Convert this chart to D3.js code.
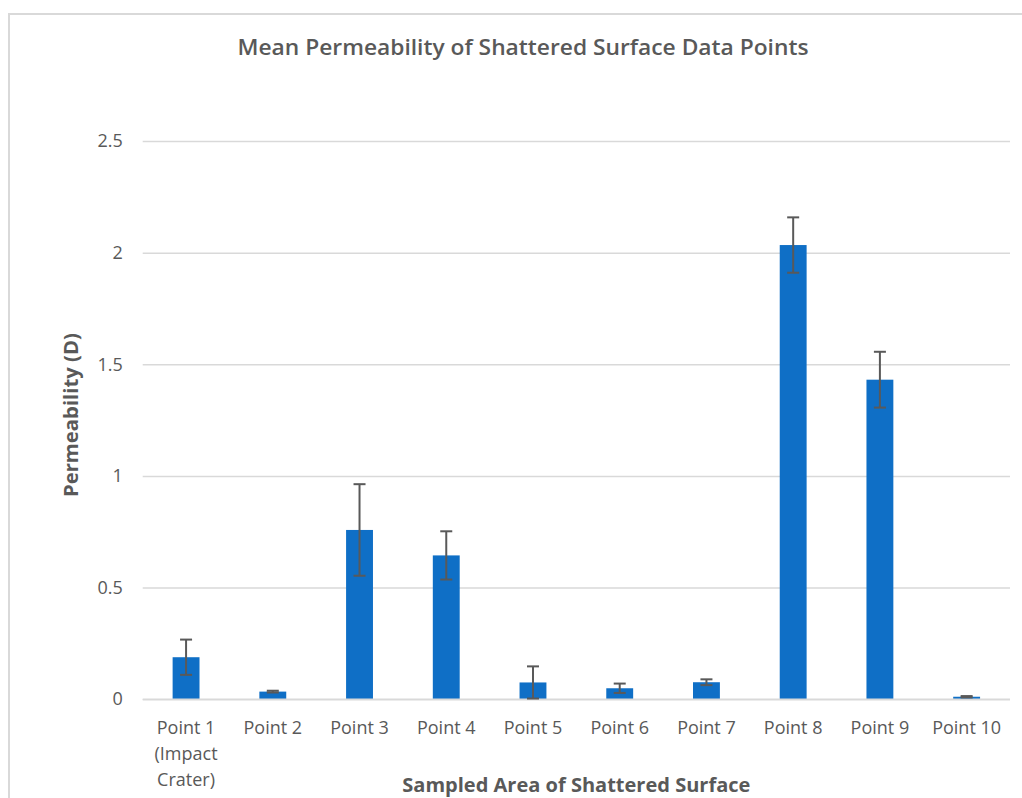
<!DOCTYPE html>
<html>
<head>
<meta charset="utf-8">
<script src="https://cdn.jsdelivr.net/npm/d3@7"></script>
<style>
  html, body { margin: 0; padding: 0; background: #fff; }
  svg { display: block; }
  text { font-family: "Open Sans", "Noto Sans", sans-serif; }
</style>
</head>
<body>
<svg id="chart" width="1022" height="798"></svg>
<script>
const categories = ["Point 1\n(Impact\nCrater)", "Point 2", "Point 3", "Point 4", "Point 5",
                    "Point 6", "Point 7", "Point 8", "Point 9", "Point 10"];
const values = [0.188, 0.034, 0.758, 0.644, 0.075, 0.049, 0.076, 2.034, 1.431, 0.011];
const errors = [0.079, 0.004, 0.205, 0.108, 0.072, 0.021, 0.013, 0.124, 0.125, 0.003];
const yTicks = [0, 0.5, 1, 1.5, 2, 2.5];
const titleText = "Mean Permeability of Shattered Surface Data Points";
const xTitle = "Sampled Area of Shattered Surface";
const yTitle = "Permeability (D)";

(function () {
const svg = d3.select("#chart");
const pLeft = 142.7, pRight = 1010, pTop = 141, pBottom = 699.2;
const grey = "#595959", gridCol = "#d9d9d9", barCol = "#0f6fc6";

// outer chart border
svg.append("rect").attr("x", 9).attr("y", 14).attr("width", 1100).attr("height", 900)
  .attr("fill", "#fff").attr("stroke", gridCol).attr("stroke-width", 2);

const x = d3.scaleBand().domain(categories).range([pLeft, pRight])
  .paddingInner(0.69).paddingOuter(0.345);
const y = d3.scaleLinear().domain([0, 2.5]).range([pBottom, pTop]);

// y axis with gridlines
const yAxis = svg.append("g").attr("transform", `translate(${pLeft},0)`)
  .call(d3.axisLeft(y).tickValues(yTicks).tickFormat(d3.format("")).tickSize(-(pRight - pLeft)).tickPadding(20));
yAxis.select(".domain").remove();
yAxis.selectAll(".tick line").attr("stroke", gridCol).attr("stroke-width", 1.5);
yAxis.selectAll(".tick text").attr("fill", grey).attr("font-size", 18)
  .attr("font-family", "'Open Sans', sans-serif");

// bars
svg.append("g").selectAll("rect").data(categories).join("rect")
  .attr("x", d => x(d)).attr("width", x.bandwidth())
  .attr("y", (d, i) => y(values[i]))
  .attr("height", (d, i) => y(0) - y(values[i]))
  .attr("fill", barCol);

// baseline
svg.append("line").attr("x1", pLeft).attr("x2", pRight).attr("y1", y(0)).attr("y2", y(0))
  .attr("stroke", gridCol).attr("stroke-width", 1.5);

// error bars
const eb = svg.append("g").attr("stroke", grey).attr("stroke-width", 2);
categories.forEach((c, i) => {
  const cx = x(c) + x.bandwidth() / 2;
  const y1 = y(values[i] + errors[i]), y2 = y(Math.max(0, values[i] - errors[i]));
  eb.append("line").attr("x1", cx).attr("x2", cx).attr("y1", y1).attr("y2", y2);
  eb.append("line").attr("x1", cx - 6).attr("x2", cx + 6).attr("y1", y1).attr("y2", y1);
  eb.append("line").attr("x1", cx - 6).attr("x2", cx + 6).attr("y1", y2).attr("y2", y2);
});

// x labels
const xl = svg.append("g");
categories.forEach(c => {
  const cx = x(c) + x.bandwidth() / 2;
  c.split("\n").forEach((line, j) => {
    xl.append("text").attr("x", cx).attr("y", 734 + j * 26)
      .attr("text-anchor", "middle").attr("fill", grey).attr("font-size", 18).text(line);
  });
});

// titles
svg.append("text").attr("x", 523).attr("y", 55).attr("text-anchor", "middle")
  .attr("fill", grey).attr("font-size", 21).attr("font-weight", 600)
  .attr("textLength", 571).attr("lengthAdjust", "spacingAndGlyphs").text(titleText);

svg.append("text").attr("x", (pLeft + pRight) / 2).attr("y", 792).attr("text-anchor", "middle")
  .attr("fill", grey).attr("font-size", 19).attr("font-weight", 700)
  .attr("textLength", 348).attr("lengthAdjust", "spacingAndGlyphs").text(xTitle);

svg.append("text").attr("transform", `translate(78,${(pTop + pBottom) / 2 - 5}) rotate(-90)`)
  .attr("text-anchor", "middle").attr("fill", grey).attr("font-size", 19).attr("font-weight", 700)
  .attr("textLength", 164).attr("lengthAdjust", "spacingAndGlyphs").text(yTitle);
})();
</script>
</body>
</html>
